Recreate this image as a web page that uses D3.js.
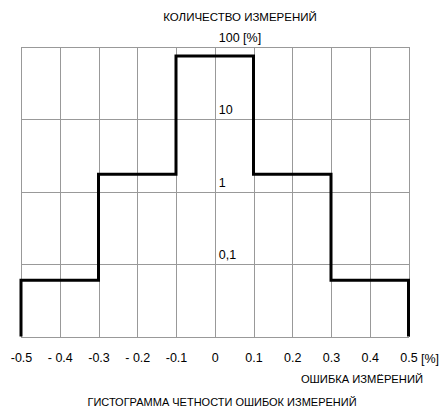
<!DOCTYPE html>
<html>
<head>
<meta charset="utf-8">
<script src="https://cdn.jsdelivr.net/npm/d3@7"></script>
<style>
  body { margin: 0; background: #fff; }
  text { font-family: "Liberation Sans", Arial, sans-serif; fill: #000; }
</style>
</head>
<body>
<div id="chart"></div>
<script>
// Datos del histograma
const bordes = [-0.5, -0.3, -0.1, 0.1, 0.3, 0.5];
const valores = [0.06, 1.75, 75, 1.75, 0.06];

// Etiquetas de los ejes
const xTicks = [-0.5, -0.4, -0.3, -0.2, -0.1, 0, 0.1, 0.2, 0.3, 0.4, 0.5];
const xLabels = ["-0.5", "- 0.4", "-0.3", "- 0.2", "-0.1", "0", "0.1", "0.2", "0.3", "0.4", "0.5"];
const yTicks = [100, 10, 1, 0.1];
const yLabels = ["100 [%]", "10", "1", "0,1"];
const yGrid = [100, 10, 1, 0.1, 0.01];

const W = 444, H = 412;
const margen = {left: 21, right: 408.5, top: 47, bottom: 336.5};

const svg = d3.select("#chart").append("svg")
  .attr("width", W).attr("height", H);

svg.append("rect").attr("width", W).attr("height", H).attr("fill", "#fff");

const x = d3.scaleLinear().domain([-0.5, 0.5]).range([margen.left, margen.right]);
const y = d3.scaleLog().domain([0.01, 100]).range([margen.bottom, margen.top]);

// Rejilla vertical
svg.append("g")
  .attr("transform", `translate(0,${margen.bottom})`)
  .call(d3.axisBottom(x).tickValues(xTicks).tickSize(-(margen.bottom - margen.top)).tickFormat(""))
  .call(g => g.select(".domain").remove())
  .call(g => g.selectAll(".tick line").attr("stroke", "#999").attr("shape-rendering", "crispEdges"));

// Rejilla horizontal
svg.append("g")
  .attr("transform", `translate(${margen.left},0)`)
  .call(d3.axisLeft(y).tickValues(yGrid).tickSize(-(margen.right - margen.left)).tickFormat(""))
  .call(g => g.select(".domain").remove())
  .call(g => g.selectAll(".tick line").attr("stroke", "#999").attr("shape-rendering", "crispEdges"));

// Etiquetas eje X
svg.append("g")
  .attr("transform", `translate(0,${margen.bottom})`)
  .call(d3.axisBottom(x).tickValues(xTicks).tickSize(0).tickPadding(17)
    .tickFormat((d, i) => xLabels[i]))
  .call(g => g.select(".domain").remove())
  .call(g => g.selectAll("text")
    .style("font-size", "12.5px")
    .style("font-family", "'Liberation Sans', Arial, sans-serif"));

// Etiquetas eje Y (dentro del grafico, sobre la linea)
svg.append("g").selectAll("text")
  .data(yTicks)
  .join("text")
  .attr("x", x(0) + 4)
  .attr("y", d => y(d) - 5)
  .style("font-size", "12.5px")
  .text((d, i) => yLabels[i]);

// Histograma escalonado
const puntos = [[bordes[0], 0.01]];
valores.forEach((v, i) => {
  puntos.push([bordes[i], v]);
  puntos.push([bordes[i + 1], v]);
});
puntos.push([bordes[bordes.length - 1], 0.01]);

const linea = d3.line().x(d => x(d[0])).y(d => y(d[1]));
svg.append("path")
  .attr("d", linea(puntos))
  .attr("fill", "none")
  .attr("stroke", "#000")
  .attr("stroke-width", 3)
  .attr("stroke-linejoin", "miter")
  .attr("stroke-linecap", "butt");

// Textos
svg.append("text").attr("x", 240).attr("y", 21).attr("text-anchor", "middle")
  .style("font-size", "11.5px")
  .text("КОЛИЧЕСТВО ИЗМЕРЕНИЙ");
svg.append("text").attr("x", 421).attr("y", 363)
  .style("font-size", "12.5px")
  .text("[%]");
svg.append("text").attr("x", 423).attr("y", 383).attr("text-anchor", "end")
  .style("font-size", "11.2px")
  .text("ОШИБКА ИЗМЁРЕНИЙ");
svg.append("text").attr("x", 222).attr("y", 406).attr("text-anchor", "middle")
  .style("font-size", "11px")
  .text("ГИСТОГРАММА ЧЕТНОСТИ ОШИБОК ИЗМЕРЕНИЙ");
</script>
</body>
</html>
